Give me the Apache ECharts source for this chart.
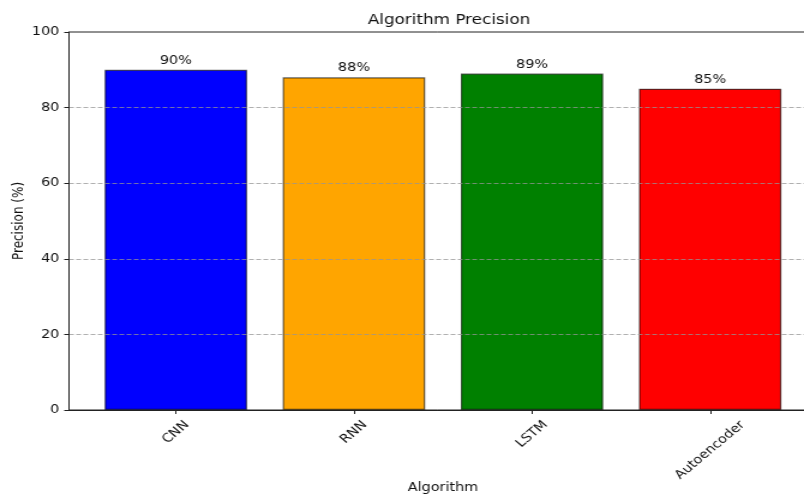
<!DOCTYPE html>
<html>
<head>
<meta charset="utf-8">
<script src="https://cdn.jsdelivr.net/npm/echarts@6/dist/echarts.min.js"></script>
<style>
  html, body { margin: 0; padding: 0; background: #ffffff; overflow: hidden; }
  /* the figure is laid out 670px wide and widened to 804px */
  #chart { width: 670px; height: 497px; transform: scaleX(1.2); transform-origin: 0 0; }
</style>
</head>
<body>
<div id="chart"></div>
<script>
// ---- data ----
const categories = ['CNN', 'RNN', 'LSTM', 'Autoencoder'];
const precision = [90, 88, 89, 85];
const barColors = ['#0000ff', '#ffa500', '#008000', '#ff0000'];
const yTicks = [0, 20, 40, 60, 80, 100];

// ---- layout ----
const FONT = 'DejaVu Sans';
const GRID_LEFT = 57.5;
const GRID_TOP = 32;
const GRID_HEIGHT = 378;
const GRID_WIDTH = 623.3;
const X_MIN = -0.6;
const X_MAX = categories.length - 1 + 0.6;
const BAR_WIDTH = 0.8 * GRID_WIDTH / (X_MAX - X_MIN);

// Rotated tick labels are centred under their ticks: each label gets
// top/right padding of half its width so longer labels sit lower.
const measure = document.createElement('canvas').getContext('2d');
measure.font = '12px "' + FONT + '"';
const rich = {};
categories.forEach((c, i) => {
  const half = measure.measureText(c).width / 2;
  rich['c' + i] = {
    fontFamily: FONT, fontSize: 12, color: '#111',
    padding: [half, half, 0, 0]
  };
});

const chart = echarts.init(document.getElementById('chart'), null, { renderer: 'canvas' });

chart.setOption({
  animation: false,
  backgroundColor: '#ffffff',
  textStyle: { fontFamily: FONT },
  title: {
    text: 'Algorithm Precision',
    left: GRID_LEFT + GRID_WIDTH / 2,
    top: 8,
    textAlign: 'center',
    textStyle: { fontFamily: FONT, fontSize: 14, fontWeight: 'normal', color: '#111' }
  },
  grid: {
    left: GRID_LEFT, top: GRID_TOP, width: GRID_WIDTH, height: GRID_HEIGHT,
    outerBoundsMode: 'none',
    containLabel: false,
    show: true, borderColor: '#222', borderWidth: 1, backgroundColor: 'transparent'
  },
  xAxis: {
    type: 'value',
    min: X_MIN,
    max: X_MAX,
    name: 'Algorithm',
    nameLocation: 'middle',
    nameGap: 72,
    nameMoveOverlap: false,
    nameTextStyle: { fontFamily: FONT, fontSize: 12, color: '#111' },
    axisLine: { show: true, onZero: false, lineStyle: { color: '#222', width: 1 } },
    axisTick: {
      show: true, length: 4, inside: false,
      customValues: categories.map((c, i) => i),
      lineStyle: { color: '#222' }
    },
    axisLabel: {
      show: true,
      customValues: categories.map((c, i) => i),
      rotate: 45,
      align: 'center',
      verticalAlign: 'middle',
      margin: 13,
      fontFamily: FONT, fontSize: 12, color: '#111',
      formatter: v => {
        const i = Math.round(v);
        return '{c' + i + '|' + categories[i] + '}';
      },
      rich: rich
    },
    splitLine: { show: false }
  },
  yAxis: {
    type: 'value',
    min: yTicks[0],
    max: yTicks[yTicks.length - 1],
    interval: yTicks[1] - yTicks[0],
    z: 3,
    name: 'Precision (%)',
    nameLocation: 'middle',
    nameGap: 36,
    nameMoveOverlap: false,
    nameTextStyle: { fontFamily: FONT, fontSize: 12, color: '#111' },
    axisLine: { show: true, onZero: false, lineStyle: { color: '#222', width: 1 } },
    axisTick: { show: true, length: 4, inside: false, lineStyle: { color: '#222' } },
    axisLabel: { margin: 8, fontFamily: FONT, fontSize: 12, color: '#111' },
    splitLine: {
      show: true,
      showMinLine: false,
      showMaxLine: false,
      lineStyle: { color: 'rgba(150,150,150,0.75)', width: 1, type: [4, 2] }
    }
  },
  series: [{
    type: 'bar',
    barWidth: BAR_WIDTH,
    data: precision.map((v, i) => ({
      value: [i, v],
      itemStyle: { color: barColors[i], borderColor: 'rgba(0,0,0,0.6)', borderWidth: 1.2 }
    })),
    label: {
      show: true,
      position: 'top',
      distance: 3,
      fontFamily: FONT, fontSize: 12, color: '#111',
      formatter: p => p.value[1] + '%'
    }
  }]
});
</script>
</body>
</html>
